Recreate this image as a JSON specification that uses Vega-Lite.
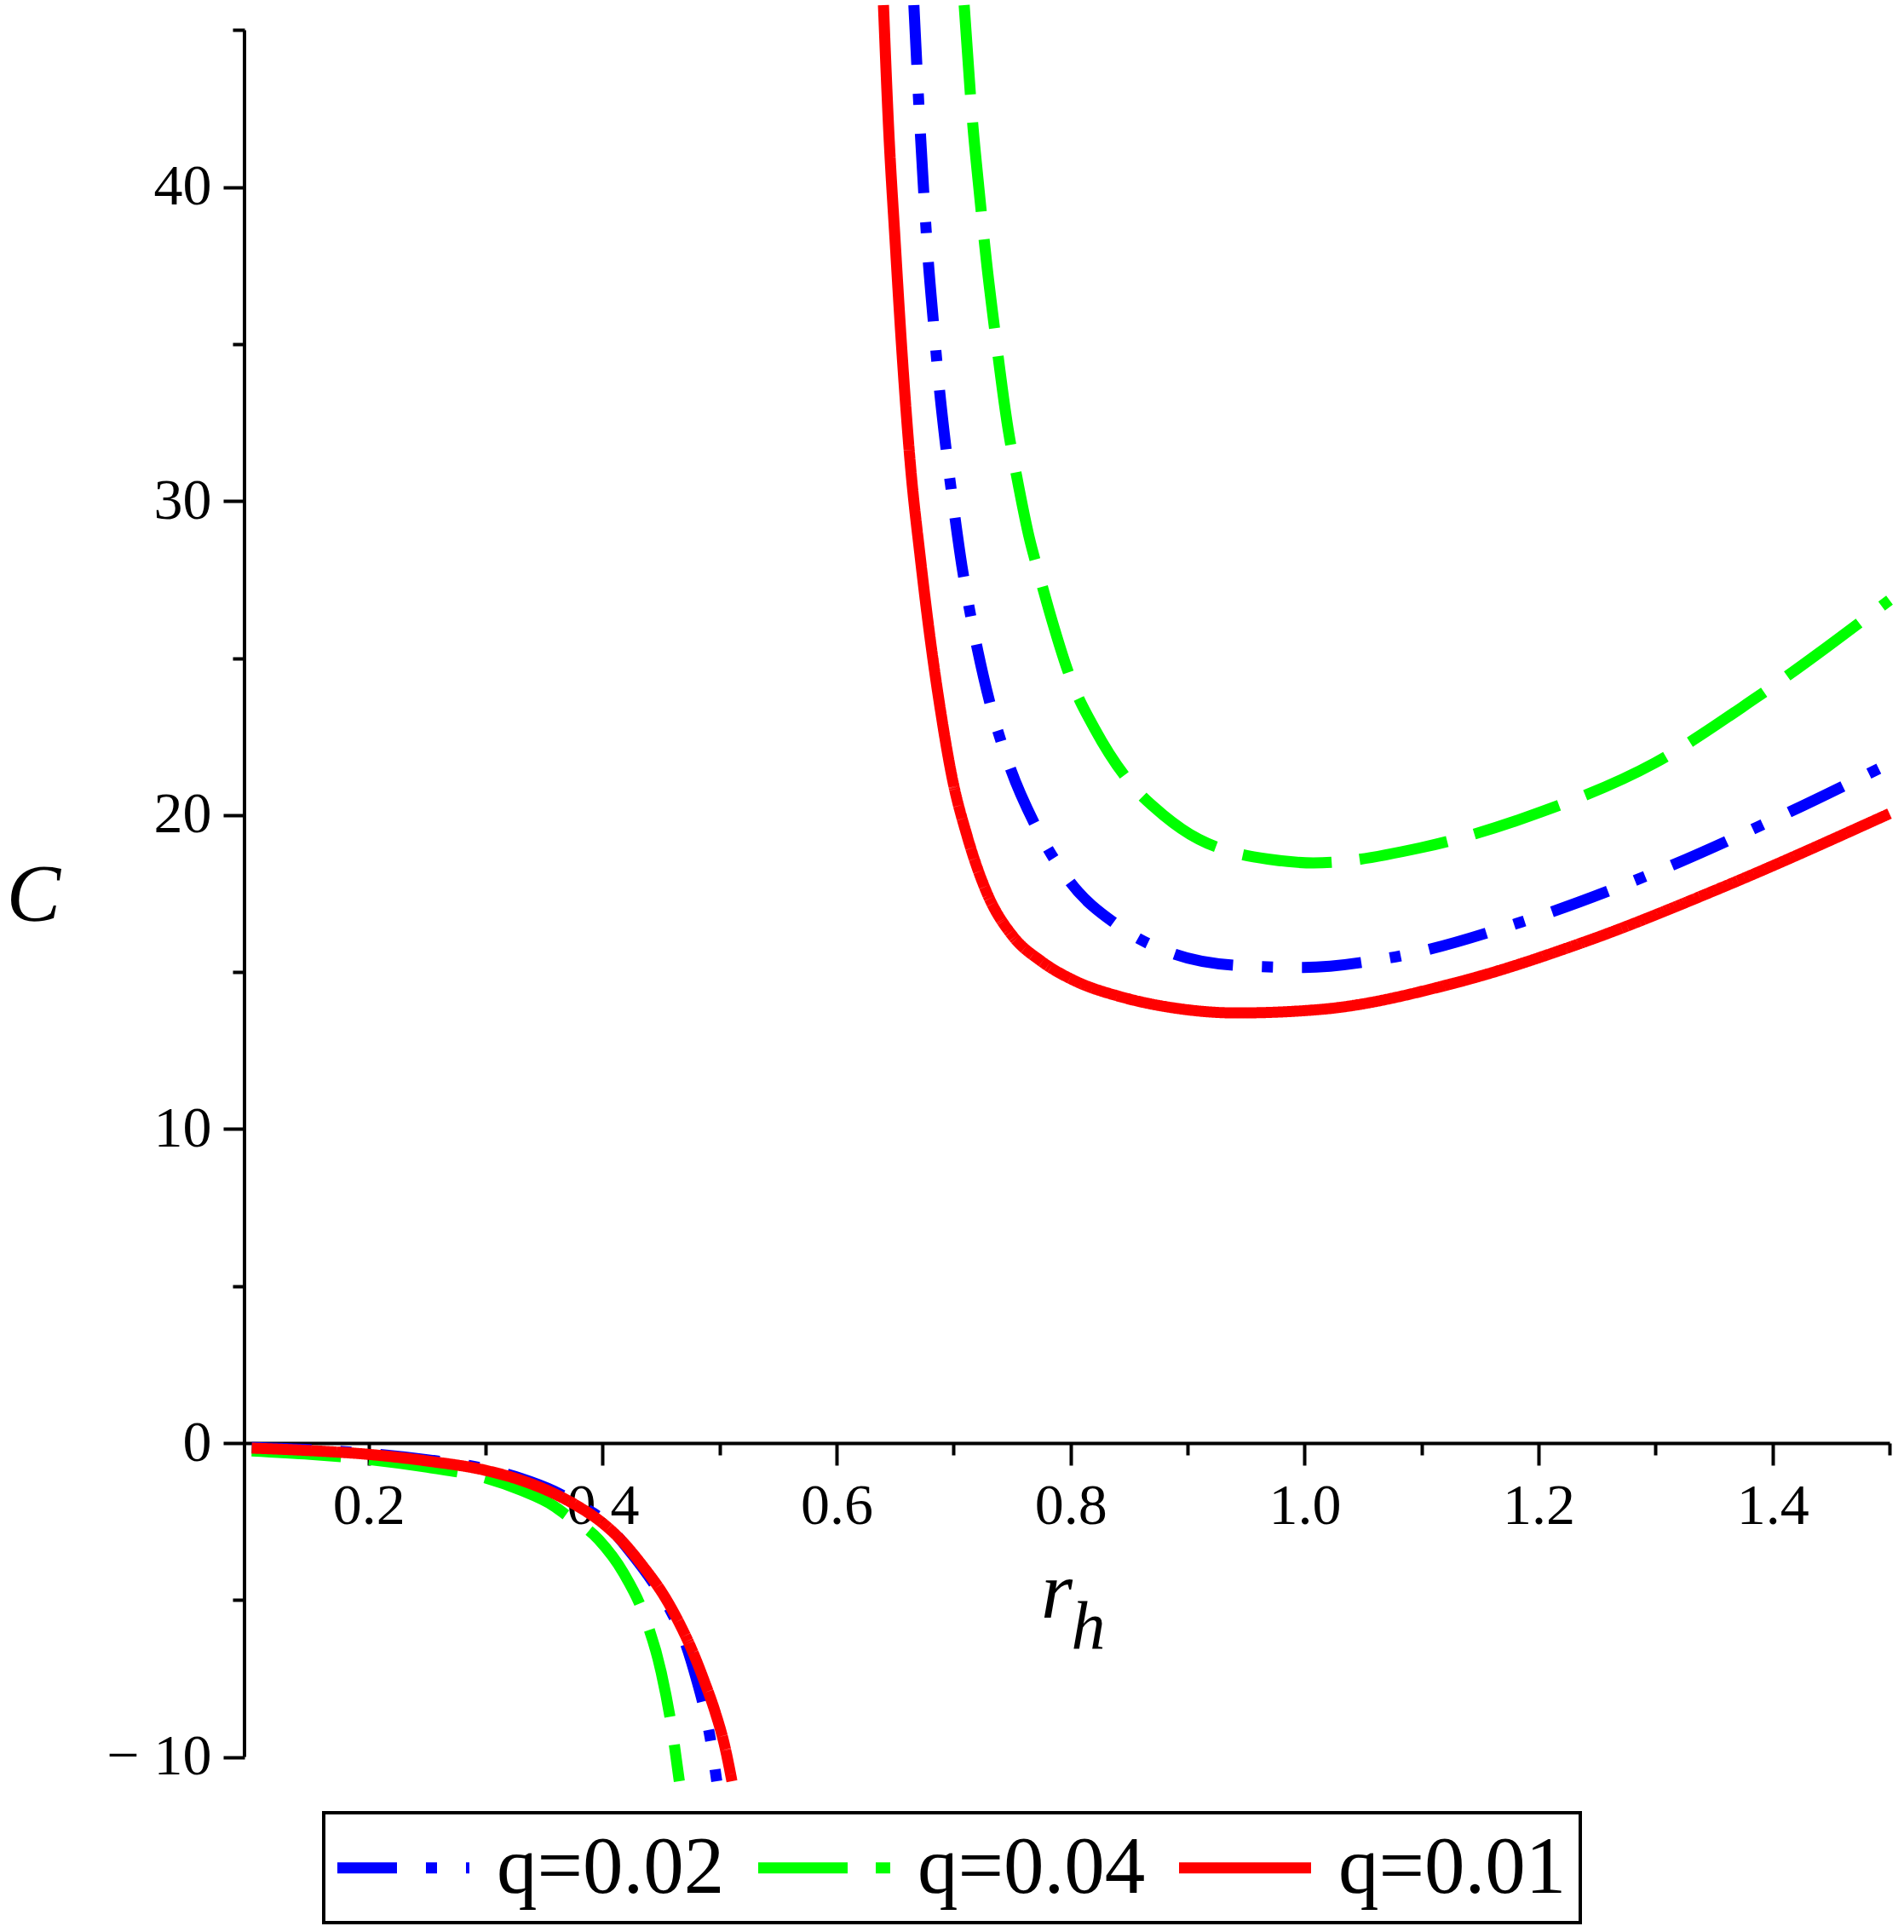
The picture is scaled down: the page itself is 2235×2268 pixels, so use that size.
{
  "$schema": "https://vega.github.io/schema/vega-lite/v6.json",
  "width": 1931,
  "height": 2085,
  "autosize": "none",
  "padding": {"left": 287, "top": 6, "right": 17, "bottom": 177},
  "background": "white",
  "config": {"view": {"stroke": null}},
  "resolve": {"axis": {"x": "independent", "y": "independent"}},
  "layer": [
    {
      "data": {"values": [{"r_h": 0.0938, "lo": -10, "hi": 45}]},
      "mark": {"type": "rule", "color": "black", "strokeWidth": 4},
      "encoding": {
        "x": {
          "field": "r_h",
          "type": "quantitative",
          "scale": {"domain": [0.0938, 1.5], "nice": false, "zero": false},
          "axis": {
            "orient": "bottom",
            "offset": -397,
            "values": [0.3, 0.5, 0.7, 0.9, 1.1, 1.3, 1.5],
            "labels": false,
            "domain": false,
            "grid": false,
            "tickSize": 14,
            "tickWidth": 4,
            "tickColor": "black",
            "title": "h",
            "titleFont": "Liberation Serif",
            "titleFontStyle": "italic",
            "titleFontWeight": "normal",
            "titleFontSize": 80,
            "titleColor": "black",
            "titleAlign": "center",
            "titleBaseline": "alphabetic",
            "titleX": 990,
            "titleY": 240
          }
        },
        "y": {
          "field": "lo",
          "type": "quantitative",
          "scale": {"domain": [-10.77, 45.8], "nice": false, "zero": false},
          "axis": {
            "orient": "left",
            "values": [-5, 5, 15, 25, 35, 45],
            "labels": false,
            "domain": false,
            "grid": false,
            "tickSize": 14,
            "tickWidth": 4,
            "tickColor": "black",
            "title": null
          }
        },
        "y2": {"field": "hi"}
      }
    },
    {
      "data": {
        "values": [
          {"q": "q=0.02", "branch": "low", "r_h": 0.1, "C": -0.14},
          {"q": "q=0.02", "branch": "low", "r_h": 0.15, "C": -0.21},
          {"q": "q=0.02", "branch": "low", "r_h": 0.2, "C": -0.33},
          {"q": "q=0.02", "branch": "low", "r_h": 0.25, "C": -0.53},
          {"q": "q=0.02", "branch": "low", "r_h": 0.3, "C": -0.82},
          {"q": "q=0.02", "branch": "low", "r_h": 0.33, "C": -1.12},
          {"q": "q=0.02", "branch": "low", "r_h": 0.358, "C": -1.52},
          {"q": "q=0.02", "branch": "low", "r_h": 0.38, "C": -1.97},
          {"q": "q=0.02", "branch": "low", "r_h": 0.4, "C": -2.45},
          {"q": "q=0.02", "branch": "low", "r_h": 0.42, "C": -3.3},
          {"q": "q=0.02", "branch": "low", "r_h": 0.445, "C": -4.55},
          {"q": "q=0.02", "branch": "low", "r_h": 0.4575, "C": -5.3},
          {"q": "q=0.02", "branch": "low", "r_h": 0.47, "C": -6.3},
          {"q": "q=0.02", "branch": "low", "r_h": 0.48, "C": -7.5},
          {"q": "q=0.02", "branch": "low", "r_h": 0.487, "C": -8.5},
          {"q": "q=0.02", "branch": "low", "r_h": 0.4924, "C": -9.5},
          {"q": "q=0.02", "branch": "low", "r_h": 0.4975, "C": -10.77},
          {"q": "q=0.02", "branch": "high", "r_h": 0.666, "C": 45.8},
          {"q": "q=0.02", "branch": "high", "r_h": 0.6713, "C": 41.89},
          {"q": "q=0.02", "branch": "high", "r_h": 0.6745, "C": 39.8},
          {"q": "q=0.02", "branch": "high", "r_h": 0.678, "C": 37.8},
          {"q": "q=0.02", "branch": "high", "r_h": 0.6826, "C": 35.74},
          {"q": "q=0.02", "branch": "high", "r_h": 0.6875, "C": 33.7},
          {"q": "q=0.02", "branch": "high", "r_h": 0.6935, "C": 31.67},
          {"q": "q=0.02", "branch": "high", "r_h": 0.7007, "C": 29.6},
          {"q": "q=0.02", "branch": "high", "r_h": 0.707, "C": 27.95},
          {"q": "q=0.02", "branch": "high", "r_h": 0.7133, "C": 26.6},
          {"q": "q=0.02", "branch": "high", "r_h": 0.7194, "C": 25.45},
          {"q": "q=0.02", "branch": "high", "r_h": 0.7315, "C": 23.5},
          {"q": "q=0.02", "branch": "high", "r_h": 0.748, "C": 21.54},
          {"q": "q=0.02", "branch": "high", "r_h": 0.7703, "C": 19.64},
          {"q": "q=0.02", "branch": "high", "r_h": 0.7994, "C": 17.88},
          {"q": "q=0.02", "branch": "high", "r_h": 0.8406, "C": 16.48},
          {"q": "q=0.02", "branch": "high", "r_h": 0.889, "C": 15.57},
          {"q": "q=0.02", "branch": "high", "r_h": 0.9437, "C": 15.21},
          {"q": "q=0.02", "branch": "high", "r_h": 0.999, "C": 15.15},
          {"q": "q=0.02", "branch": "high", "r_h": 1.0706, "C": 15.44},
          {"q": "q=0.02", "branch": "high", "r_h": 1.1855, "C": 16.6},
          {"q": "q=0.02", "branch": "high", "r_h": 1.2997, "C": 18.18},
          {"q": "q=0.02", "branch": "high", "r_h": 1.4146, "C": 20.1},
          {"q": "q=0.02", "branch": "high", "r_h": 1.5, "C": 21.65},
          {"q": "q=0.04", "branch": "low", "r_h": 0.1, "C": -0.25},
          {"q": "q=0.04", "branch": "low", "r_h": 0.15, "C": -0.36},
          {"q": "q=0.04", "branch": "low", "r_h": 0.2, "C": -0.52},
          {"q": "q=0.04", "branch": "low", "r_h": 0.25, "C": -0.77},
          {"q": "q=0.04", "branch": "low", "r_h": 0.3, "C": -1.11},
          {"q": "q=0.04", "branch": "low", "r_h": 0.33, "C": -1.5},
          {"q": "q=0.04", "branch": "low", "r_h": 0.358, "C": -2.0},
          {"q": "q=0.04", "branch": "low", "r_h": 0.3673, "C": -2.25},
          {"q": "q=0.04", "branch": "low", "r_h": 0.3964, "C": -3.07},
          {"q": "q=0.04", "branch": "low", "r_h": 0.418, "C": -4.15},
          {"q": "q=0.04", "branch": "low", "r_h": 0.4356, "C": -5.5},
          {"q": "q=0.04", "branch": "low", "r_h": 0.45, "C": -7.3},
          {"q": "q=0.04", "branch": "low", "r_h": 0.4596, "C": -9.2},
          {"q": "q=0.04", "branch": "low", "r_h": 0.4655, "C": -10.77},
          {"q": "q=0.04", "branch": "high", "r_h": 0.709, "C": 45.8},
          {"q": "q=0.04", "branch": "high", "r_h": 0.7166, "C": 41.89},
          {"q": "q=0.04", "branch": "high", "r_h": 0.7215, "C": 40.0},
          {"q": "q=0.04", "branch": "high", "r_h": 0.7283, "C": 37.55},
          {"q": "q=0.04", "branch": "high", "r_h": 0.736, "C": 35.2},
          {"q": "q=0.04", "branch": "high", "r_h": 0.7457, "C": 32.5},
          {"q": "q=0.04", "branch": "high", "r_h": 0.7554, "C": 30.5},
          {"q": "q=0.04", "branch": "high", "r_h": 0.765, "C": 28.78},
          {"q": "q=0.04", "branch": "high", "r_h": 0.7724, "C": 27.75},
          {"q": "q=0.04", "branch": "high", "r_h": 0.7817, "C": 26.5},
          {"q": "q=0.04", "branch": "high", "r_h": 0.8015, "C": 24.2},
          {"q": "q=0.04", "branch": "high", "r_h": 0.8206, "C": 22.75},
          {"q": "q=0.04", "branch": "high", "r_h": 0.8515, "C": 21.0},
          {"q": "q=0.04", "branch": "high", "r_h": 0.8794, "C": 20.0},
          {"q": "q=0.04", "branch": "high", "r_h": 0.9097, "C": 19.23},
          {"q": "q=0.04", "branch": "high", "r_h": 0.934, "C": 18.87},
          {"q": "q=0.04", "branch": "high", "r_h": 0.9687, "C": 18.6},
          {"q": "q=0.04", "branch": "high", "r_h": 1.0075, "C": 18.48},
          {"q": "q=0.04", "branch": "high", "r_h": 1.099, "C": 18.96},
          {"q": "q=0.04", "branch": "high", "r_h": 1.202, "C": 20.1},
          {"q": "q=0.04", "branch": "high", "r_h": 1.2997, "C": 21.67},
          {"q": "q=0.04", "branch": "high", "r_h": 1.3855, "C": 23.73},
          {"q": "q=0.04", "branch": "high", "r_h": 1.5, "C": 26.85},
          {"q": "q=0.01", "branch": "low", "r_h": 0.1, "C": -0.16},
          {"q": "q=0.01", "branch": "low", "r_h": 0.15, "C": -0.24},
          {"q": "q=0.01", "branch": "low", "r_h": 0.2, "C": -0.36},
          {"q": "q=0.01", "branch": "low", "r_h": 0.25, "C": -0.57},
          {"q": "q=0.01", "branch": "low", "r_h": 0.3, "C": -0.87},
          {"q": "q=0.01", "branch": "low", "r_h": 0.33, "C": -1.18},
          {"q": "q=0.01", "branch": "low", "r_h": 0.358, "C": -1.6},
          {"q": "q=0.01", "branch": "low", "r_h": 0.38, "C": -2.04},
          {"q": "q=0.01", "branch": "low", "r_h": 0.4, "C": -2.55},
          {"q": "q=0.01", "branch": "low", "r_h": 0.416, "C": -3.1},
          {"q": "q=0.01", "branch": "low", "r_h": 0.435, "C": -3.95},
          {"q": "q=0.01", "branch": "low", "r_h": 0.4524, "C": -4.86},
          {"q": "q=0.01", "branch": "low", "r_h": 0.465, "C": -5.7},
          {"q": "q=0.01", "branch": "low", "r_h": 0.4764, "C": -6.6},
          {"q": "q=0.01", "branch": "low", "r_h": 0.487, "C": -7.6},
          {"q": "q=0.01", "branch": "low", "r_h": 0.496, "C": -8.55},
          {"q": "q=0.01", "branch": "low", "r_h": 0.504, "C": -9.6},
          {"q": "q=0.01", "branch": "low", "r_h": 0.5105, "C": -10.77},
          {"q": "q=0.01", "branch": "high", "r_h": 0.64, "C": 45.8},
          {"q": "q=0.01", "branch": "high", "r_h": 0.6444, "C": 41.89},
          {"q": "q=0.01", "branch": "high", "r_h": 0.65, "C": 38.27},
          {"q": "q=0.01", "branch": "high", "r_h": 0.656, "C": 34.65},
          {"q": "q=0.01", "branch": "high", "r_h": 0.6633, "C": 31.04},
          {"q": "q=0.01", "branch": "high", "r_h": 0.6715, "C": 28.2},
          {"q": "q=0.01", "branch": "high", "r_h": 0.68, "C": 25.6},
          {"q": "q=0.01", "branch": "high", "r_h": 0.6887, "C": 23.35},
          {"q": "q=0.01", "branch": "high", "r_h": 0.6984, "C": 21.25},
          {"q": "q=0.01", "branch": "high", "r_h": 0.7118, "C": 19.3},
          {"q": "q=0.01", "branch": "high", "r_h": 0.7287, "C": 17.5},
          {"q": "q=0.01", "branch": "high", "r_h": 0.7505, "C": 16.15},
          {"q": "q=0.01", "branch": "high", "r_h": 0.7748, "C": 15.35},
          {"q": "q=0.01", "branch": "high", "r_h": 0.8038, "C": 14.72},
          {"q": "q=0.01", "branch": "high", "r_h": 0.8424, "C": 14.22},
          {"q": "q=0.01", "branch": "high", "r_h": 0.89, "C": 13.85},
          {"q": "q=0.01", "branch": "high", "r_h": 0.942, "C": 13.7},
          {"q": "q=0.01", "branch": "high", "r_h": 1.013, "C": 13.81},
          {"q": "q=0.01", "branch": "high", "r_h": 1.128, "C": 14.65},
          {"q": "q=0.01", "branch": "high", "r_h": 1.242, "C": 16.0},
          {"q": "q=0.01", "branch": "high", "r_h": 1.357, "C": 17.7},
          {"q": "q=0.01", "branch": "high", "r_h": 1.5, "C": 20.05}
        ]
      },
      "mark": {"type": "line", "strokeWidth": 13, "interpolate": "monotone"},
      "encoding": {
        "x": {
          "field": "r_h",
          "type": "quantitative",
          "axis": {
            "orient": "bottom",
            "offset": -397,
            "values": [0.2, 0.4, 0.6, 0.8, 1.0, 1.2, 1.4],
            "format": ".1f",
            "grid": false,
            "domainColor": "black",
            "domainWidth": 4,
            "tickColor": "black",
            "tickWidth": 4,
            "tickSize": 26,
            "labelFont": "Liberation Serif",
            "labelFontSize": 68,
            "labelColor": "black",
            "labelPadding": 14,
            "labelFlush": false,
            "labelOverlap": false,
            "title": "r",
            "titleFont": "Liberation Serif",
            "titleFontStyle": "italic",
            "titleFontWeight": "normal",
            "titleFontSize": 95,
            "titleColor": "black",
            "titleAlign": "center",
            "titleBaseline": "alphabetic",
            "titleX": 953,
            "titleY": 204
          }
        },
        "y": {
          "field": "C",
          "type": "quantitative",
          "axis": {
            "orient": "left",
            "values": [-10, 0, 10, 20, 30, 40],
            "labelExpr": "datum.value < 0 ? '− ' + format(-datum.value, 'd') : datum.label",
            "grid": false,
            "domain": false,
            "tickColor": "black",
            "tickWidth": 4,
            "tickSize": 25,
            "labelFont": "Liberation Serif",
            "labelFontSize": 68,
            "labelColor": "black",
            "labelPadding": 14,
            "labelFlush": false,
            "labelOverlap": false,
            "title": "C",
            "titleFont": "Liberation Serif",
            "titleFontStyle": "italic",
            "titleFontWeight": "normal",
            "titleFontSize": 95,
            "titleColor": "black",
            "titleAngle": 0,
            "titleAlign": "center",
            "titleBaseline": "middle",
            "titleX": -248,
            "titleY": 1045
          }
        },
        "detail": {"field": "branch"},
        "color": {
          "field": "q",
          "type": "nominal",
          "scale": {
            "domain": ["q=0.02", "q=0.04", "q=0.01"],
            "range": ["#0000ff", "#00ff00", "#ff0000"]
          },
          "legend": {
            "title": null,
            "orient": "none",
            "direction": "horizontal",
            "legendX": 93,
            "legendY": 2122,
            "padding": 16,
            "strokeColor": "black",
            "fillColor": "white",
            "symbolType": "M-1.1548,0H2.5357",
            "symbolSize": 7056,
            "symbolStrokeWidth": 13,
            "labelFont": "Liberation Serif",
            "labelFontSize": 95,
            "labelColor": "black",
            "labelOffset": 90,
            "labelLimit": 0,
            "columnPadding": 12,
            "encode": {"legend": {"update": {"strokeWidth": {"value": 4}}}}
          }
        },
        "strokeDash": {
          "field": "q",
          "type": "nominal",
          "scale": {
            "domain": ["q=0.02", "q=0.04", "q=0.01"],
            "range": [[70, 34, 13, 34], [105, 33], [1, 0]]
          },
          "legend": {
            "title": null,
            "orient": "none",
            "direction": "horizontal",
            "legendX": 93,
            "legendY": 2122,
            "padding": 16,
            "strokeColor": "black",
            "fillColor": "white",
            "symbolType": "M-1.1548,0H2.5357",
            "symbolSize": 7056,
            "symbolStrokeWidth": 13,
            "labelFont": "Liberation Serif",
            "labelFontSize": 95,
            "labelColor": "black",
            "labelOffset": 90,
            "labelLimit": 0,
            "columnPadding": 12,
            "encode": {"legend": {"update": {"strokeWidth": {"value": 4}}}}
          }
        }
      }
    }
  ]
}
